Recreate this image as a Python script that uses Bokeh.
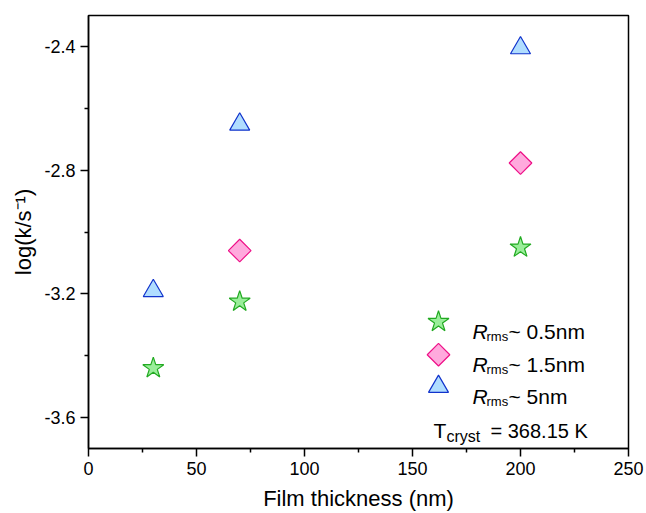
from bokeh.plotting import figure
from bokeh.models import Range1d, FixedTicker, CustomJSTickFormatter, Label
from bokeh.embed import file_html
from bokeh.resources import INLINE
import math

# ---------------- data ----------------
thick_05 = [30, 70, 200]
logk_05 = [-3.44, -3.225, -3.05]

thick_15 = [70, 200]
logk_15 = [-3.06, -2.777]

thick_5 = [30, 70, 200]
logk_5 = [-3.19, -2.652, -2.405]

series_names = ["~ 0.5nm", "~ 1.5nm", "~ 5nm"]
t_cryst_text = "= 368.15 K"

x_ticks = [0, 50, 100, 150, 200, 250]
x_minor = [25, 75, 125, 175, 225]
y_ticks = [-3.6, -3.2, -2.8, -2.4]
y_minor = [-3.4, -3.0, -2.6]

X0, X1 = 0, 250
Y0, Y1 = -3.7, -2.3

FONT = "Liberation Sans"
W, H = 646, 513
FL, FR, FT, FB = 88, 628, 15, 449  # frame pixel box

STAR = dict(marker="star", size=22, fill_color="#99EE99", line_color="#22AA22", line_width=1.2)
DIAM = dict(marker="square", angle=math.pi / 4, size=16, fill_color="#FFAADD",
            line_color="#EE1188", line_width=1.2)
TRI = dict(marker="triangle", size=20, fill_color="#B0DDFF", line_color="#1133CC", line_width=1.2)

p = figure(width=W, height=H, output_backend="svg", toolbar_location=None,
           x_range=Range1d(X0, X1), y_range=Range1d(Y0, Y1),
           min_border_left=FL, min_border_right=W - FR,
           min_border_top=FT, min_border_bottom=H - FB)
p.grid.visible = False
p.outline_line_color = "black"
p.outline_line_width = 1.5
p.background_fill_color = "white"
p.border_fill_color = "white"

for ax in (p.xaxis[0], p.yaxis[0]):
    ax.axis_line_width = 1.5
    ax.axis_line_color = "black"
    ax.major_tick_line_width = 1.5
    ax.minor_tick_line_width = 1.5
    ax.major_tick_line_color = "black"
    ax.minor_tick_line_color = "black"
    ax.major_tick_in = 0
    ax.major_tick_out = 8
    ax.minor_tick_in = 0
    ax.minor_tick_out = 4
    ax.major_label_text_font = FONT
    ax.major_label_text_font_size = "18px"
    ax.major_label_text_color = "black"
    ax.axis_label_text_font = FONT
    ax.axis_label_text_font_size = "22px"
    ax.axis_label_text_font_style = "normal"
    ax.axis_label_text_color = "black"

p.xaxis.ticker = FixedTicker(ticks=x_ticks, minor_ticks=x_minor)
p.yaxis.ticker = FixedTicker(ticks=y_ticks, minor_ticks=y_minor)
p.yaxis.formatter = CustomJSTickFormatter(code="return tick.toFixed(1);")
p.xaxis.formatter = CustomJSTickFormatter(code="return tick.toFixed(0);")
p.xaxis.axis_label = "Film thickness (nm)"
p.yaxis.axis_label = "log(k/s\u207b\u00b9)"
p.xaxis.major_label_standoff = 5
p.xaxis.axis_label_standoff = 8
p.yaxis.major_label_standoff = 5
p.yaxis.axis_label_standoff = 5

p.scatter(thick_05, logk_05, **STAR)
p.scatter(thick_15, logk_15, **DIAM)
p.scatter(thick_5, logk_5, **TRI)


def dx(px):
    return X0 + (px - FL) * (X1 - X0) / (FR - FL)


def dy(py):
    return Y1 - (py - FT) * (Y1 - Y0) / (FB - FT)


# legend keys (positioned in pixel layout, converted to the plot's units)
key_px = 438
key_py = [322, 355, 387]
for style, py in zip([STAR, DIAM, TRI], key_py):
    p.scatter([dx(key_px)], [dy(py)], **style)


def add_text(px, py, txt, size, style="normal"):
    p.add_layout(Label(x=dx(px), y=dy(py), text=txt, text_font=FONT,
                       text_font_size=size, text_font_style=style,
                       text_color="black", text_baseline="alphabetic",
                       text_align="left"))


for name, py in zip(series_names, key_py):
    base = py + 10
    add_text(472, base, "R", "21px", "italic")
    add_text(486, base + 5, "rms", "13px")
    add_text(508, base, name, "21px")

add_text(433, 431, "T", "21px")
add_text(446, 437, "cryst", "16px")
add_text(490, 431, t_cryst_text, "20px")

open("out.html", "w").write(file_html(p, INLINE))
